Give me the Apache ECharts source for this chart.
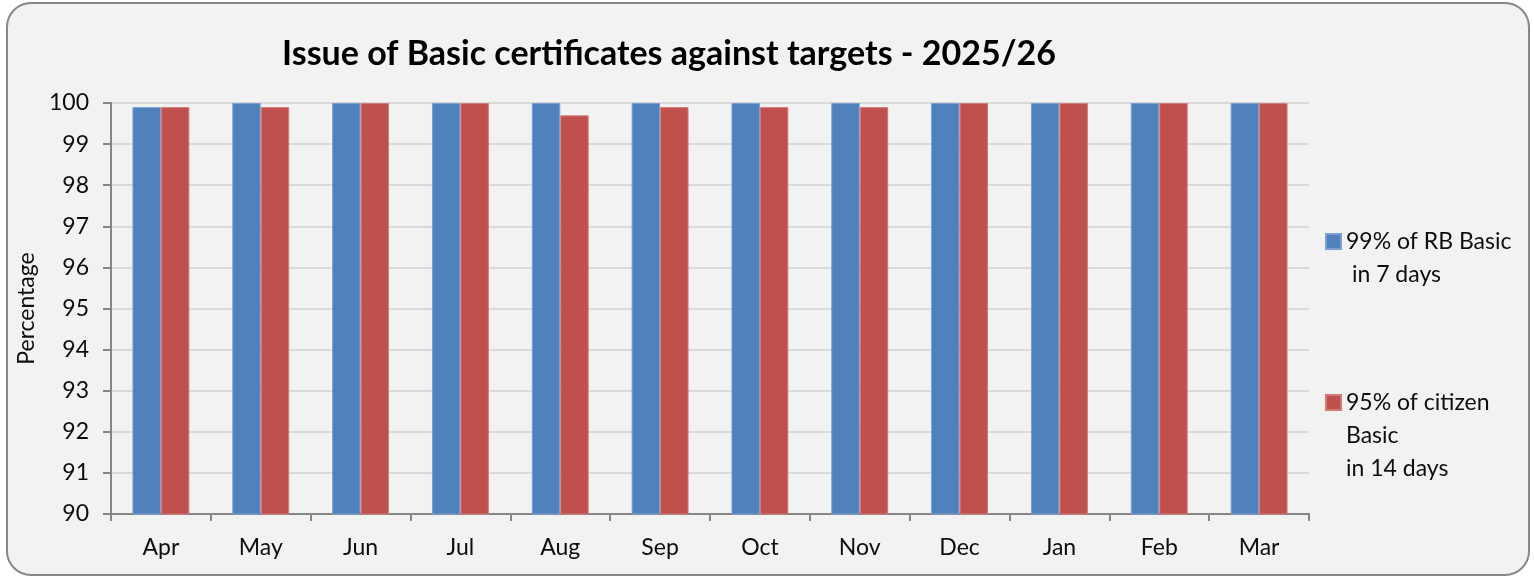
<!DOCTYPE html>
<html>
<head>
<meta charset="utf-8">
<script src="https://cdn.jsdelivr.net/npm/echarts@6/dist/echarts.min.js"></script>
<style>
  html, body { margin: 0; padding: 0; background: #fff; }
  #chart { width: 1534px; height: 579px; }
</style>
</head>
<body>
<div id="chart"></div>
<script>
// data
const months = ['Apr', 'May', 'Jun', 'Jul', 'Aug', 'Sep', 'Oct', 'Nov', 'Dec', 'Jan', 'Feb', 'Mar']
const rbBasic = [99.9, 100, 100, 100, 100, 100, 100, 100, 100, 100, 100, 100]
const citizenBasic = [99.9, 99.9, 100, 100, 99.7, 99.9, 99.9, 99.9, 100, 100, 100, 100]
const seriesNames = ['99% of RB Basic', '95% of citizen Basic']
// blank lines on top keep the swatch level with the first line of text
const legendLabels = ['\n99% of RB Basic\n in 7 days', '\n\n95% of citizen\nBasic\nin 14 days']

const font = 'Lato, "Open Sans", sans-serif'
const axisGrey = '#868686'
const txt = '#0d0d0d'

let myChart = echarts.init(document.getElementById('chart'))
let legendItem = (i, top) => ({
    data: [seriesNames[i]],
    left: 1320, top: top,
    itemWidth: 15, itemHeight: 15,
    itemGap: 0,
    icon: 'rect',
    formatter: () => legendLabels[i],
    textStyle: { fontFamily: font, fontSize: 23, color: txt, lineHeight: 33 }
})
let option = {
    animation: false,
    textStyle: { fontFamily: font },
    graphic: [{
        type: 'rect',
        z: -10,
        silent: true,
        shape: { x: 7, y: 3, width: 1522, height: 572, r: 24 },
        style: { fill: '#f2f2f2', stroke: '#878787', lineWidth: 2 }
    }],
    title: {
        text: 'Issue of Basic certificates against targets - 2025/26',
        left: 664,
        top: 32,
        textAlign: 'center',
        textStyle: { fontFamily: font, fontSize: 34, fontWeight: 'bold', color: '#000' }
    },
    legend: [legendItem(0, 187), legendItem(1, 315)],
    grid: { left: 111, right: 225, top: 103, bottom: 65 },
    xAxis: {
        type: 'category',
        data: months,
        axisLine: { lineStyle: { color: axisGrey, width: 2 } },
        axisTick: { show: true, length: 7, lineStyle: { color: axisGrey, width: 2 } },
        axisLabel: { color: txt, fontSize: 23, margin: 22 }
    },
    yAxis: {
        type: 'value',
        min: 90, max: 100, interval: 1,
        name: 'Percentage',
        nameLocation: 'middle',
        nameGap: 68,
        nameRotate: 90,
        nameTextStyle: { color: txt, fontSize: 23 },
        axisLine: { show: true, lineStyle: { color: axisGrey, width: 2 } },
        axisTick: { show: true, length: 8, lineStyle: { color: axisGrey, width: 2 } },
        axisLabel: { color: txt, fontSize: 23, margin: 22 },
        splitLine: { lineStyle: { color: '#d9d9d9', width: 2 } }
    },
    series: [
        {
            name: seriesNames[0],
            type: 'bar',
            data: rbBasic,
            barGap: '0%',
            barCategoryGap: '43%',
            itemStyle: { color: '#4f81bd', borderColor: '#7a9fd0', borderWidth: 1 }
        },
        {
            name: seriesNames[1],
            type: 'bar',
            data: citizenBasic,
            itemStyle: { color: '#c0504d', borderColor: '#d47b78', borderWidth: 1 }
        }
    ]
}
myChart.setOption(option)
</script>
</body>
</html>
